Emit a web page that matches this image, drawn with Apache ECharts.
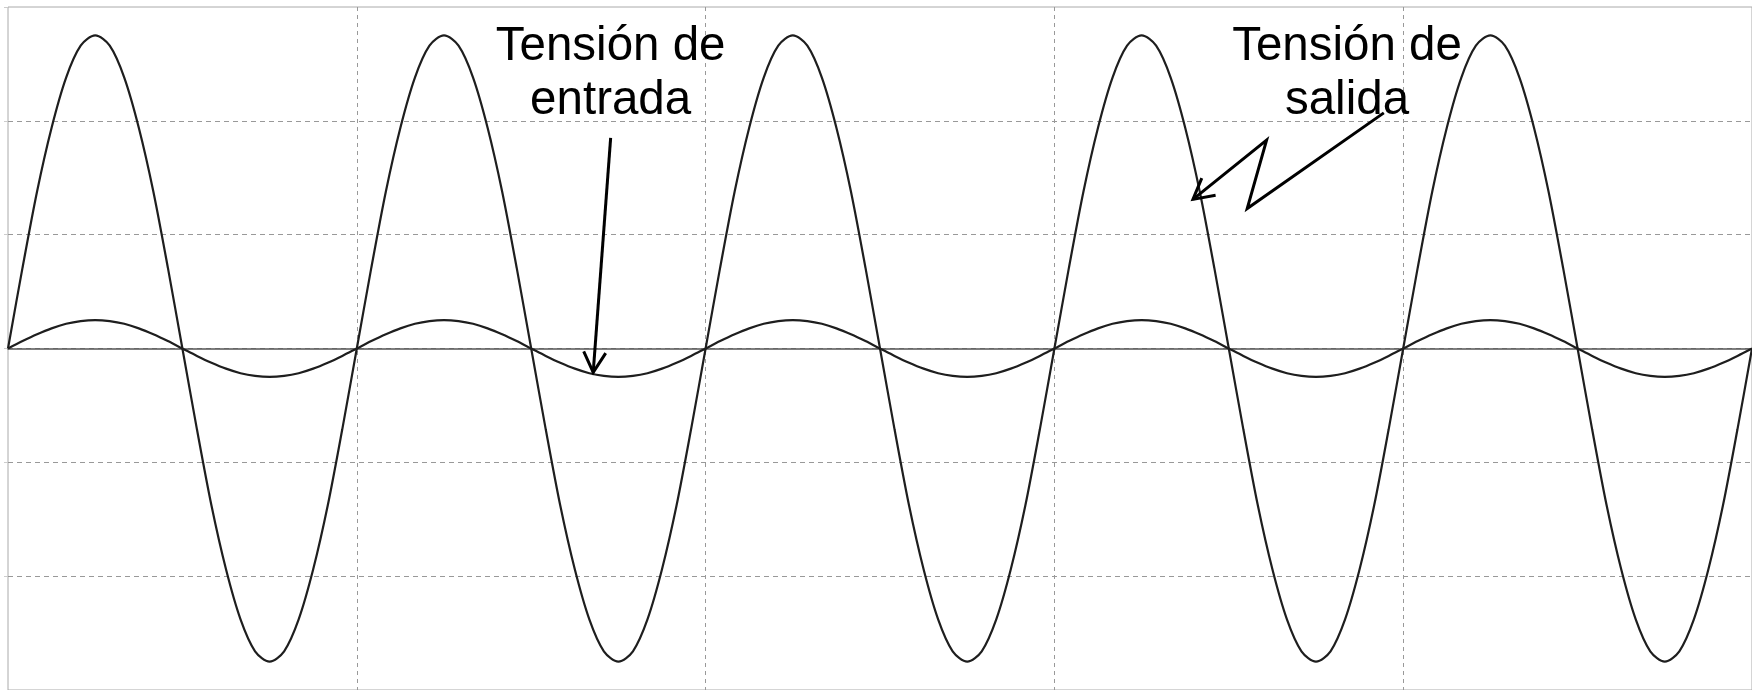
<!DOCTYPE html>
<html>
<head>
<meta charset="utf-8">
<script src="https://cdn.jsdelivr.net/npm/echarts@6/dist/echarts.min.js"></script>
<style>
  html, body { margin: 0; padding: 0; background: #fff; }
  #main { width: 1752px; height: 690px; }
</style>
</head>
<body>
<div id="main"></div>
<script>
// time in electrical degrees, one grid division = one period (360)
const time = [
  0, 15, 30, 45, 60, 75, 90, 105, 120, 135, 150, 165,
  180, 195, 210, 225, 240, 255, 270, 285, 300, 315, 330, 345,
  360, 375, 390, 405, 420, 435, 450, 465, 480, 495, 510, 525,
  540, 555, 570, 585, 600, 615, 630, 645, 660, 675, 690, 705,
  720, 735, 750, 765, 780, 795, 810, 825, 840, 855, 870, 885,
  900, 915, 930, 945, 960, 975, 990, 1005, 1020, 1035, 1050, 1065,
  1080, 1095, 1110, 1125, 1140, 1155, 1170, 1185, 1200, 1215, 1230, 1245,
  1260, 1275, 1290, 1305, 1320, 1335, 1350, 1365, 1380, 1395, 1410, 1425,
  1440, 1455, 1470, 1485, 1500, 1515, 1530, 1545, 1560, 1575, 1590, 1605,
  1620, 1635, 1650, 1665, 1680, 1695, 1710, 1725, 1740, 1755, 1770, 1785,
  1800
];

// output voltage (divisions)
const outputV = [
  0, 0.71, 1.38, 1.94, 2.38, 2.66, 2.75, 2.66, 2.38, 1.94, 1.38, 0.71,
  0, -0.71, -1.38, -1.94, -2.38, -2.66, -2.75, -2.66, -2.38, -1.94, -1.38, -0.71,
  0, 0.71, 1.38, 1.94, 2.38, 2.66, 2.75, 2.66, 2.38, 1.94, 1.38, 0.71,
  0, -0.71, -1.38, -1.94, -2.38, -2.66, -2.75, -2.66, -2.38, -1.94, -1.38, -0.71,
  0, 0.71, 1.38, 1.94, 2.38, 2.66, 2.75, 2.66, 2.38, 1.94, 1.38, 0.71,
  0, -0.71, -1.38, -1.94, -2.38, -2.66, -2.75, -2.66, -2.38, -1.94, -1.38, -0.71,
  0, 0.71, 1.38, 1.94, 2.38, 2.66, 2.75, 2.66, 2.38, 1.94, 1.38, 0.71,
  0, -0.71, -1.38, -1.94, -2.38, -2.66, -2.75, -2.66, -2.38, -1.94, -1.38, -0.71,
  0, 0.71, 1.38, 1.94, 2.38, 2.66, 2.75, 2.66, 2.38, 1.94, 1.38, 0.71,
  0, -0.71, -1.38, -1.94, -2.38, -2.66, -2.75, -2.66, -2.38, -1.94, -1.38, -0.71,
  0
];

// input voltage (divisions)
const inputV = [
  0, 0.065, 0.125, 0.177, 0.217, 0.241, 0.25, 0.241, 0.217, 0.177, 0.125, 0.065,
  0, -0.065, -0.125, -0.177, -0.217, -0.241, -0.25, -0.241, -0.217, -0.177, -0.125, -0.065,
  0, 0.065, 0.125, 0.177, 0.217, 0.241, 0.25, 0.241, 0.217, 0.177, 0.125, 0.065,
  0, -0.065, -0.125, -0.177, -0.217, -0.241, -0.25, -0.241, -0.217, -0.177, -0.125, -0.065,
  0, 0.065, 0.125, 0.177, 0.217, 0.241, 0.25, 0.241, 0.217, 0.177, 0.125, 0.065,
  0, -0.065, -0.125, -0.177, -0.217, -0.241, -0.25, -0.241, -0.217, -0.177, -0.125, -0.065,
  0, 0.065, 0.125, 0.177, 0.217, 0.241, 0.25, 0.241, 0.217, 0.177, 0.125, 0.065,
  0, -0.065, -0.125, -0.177, -0.217, -0.241, -0.25, -0.241, -0.217, -0.177, -0.125, -0.065,
  0, 0.065, 0.125, 0.177, 0.217, 0.241, 0.25, 0.241, 0.217, 0.177, 0.125, 0.065,
  0, -0.065, -0.125, -0.177, -0.217, -0.241, -0.25, -0.241, -0.217, -0.177, -0.125, -0.065,
  0
];

const chart = echarts.init(document.getElementById("main"));

const waveStyle = { color: "#1e1e1e", width: 2.2 };

const option = {
  animation: false,
  backgroundColor: "#fff",
  grid: {
    left: 8,
    top: 7,
    right: -4,
    bottom: 0,
    show: true,
    borderColor: "#aaa",
    borderWidth: 1,
  },
  xAxis: {
    type: "value",
    min: 0,
    max: 1800,
    interval: 360,
    axisLabel: { show: false },
    axisTick: { show: false },
    axisLine: { show: true, onZero: true, lineStyle: { color: "#555", width: 1.5 } },
    splitLine: {
      show: true,
      showMinLine: false,
      showMaxLine: false,
      lineStyle: { color: "#999", type: [4, 4], width: 1 },
    },
  },
  yAxis: {
    type: "value",
    min: -3,
    max: 3,
    interval: 1,
    axisLabel: { show: false },
    axisLine: { show: false },
    axisTick: { show: true, length: 4, lineStyle: { color: "#ccc" } },
    splitLine: {
      show: true,
      showMinLine: false,
      showMaxLine: false,
      lineStyle: { color: "#999", type: [5, 4], width: 1 },
    },
  },
  series: [
    {
      name: "Tensión de salida",
      type: "line",
      data: time.map((t, i) => [t, outputV[i]]),
      smooth: 0.3,
      showSymbol: false,
      lineStyle: waveStyle,
      z: 3,
    },
    {
      name: "Tensión de entrada",
      type: "line",
      data: time.map((t, i) => [t, inputV[i]]),
      smooth: 0.3,
      showSymbol: false,
      lineStyle: waveStyle,
      z: 3,
    },
  ],
};

chart.setOption(option);

// annotations, placed in data coordinates
const toPx = (p) => chart.convertToPixel({ gridIndex: 0 }, p);
const labelFont = '47.5px "Liberation Sans", Arial, sans-serif';

function arrowShapes(points) {
  const pix = points.map(toPx);
  const tip = pix[pix.length - 1];
  const prev = pix[pix.length - 2];
  const ang = Math.atan2(prev[1] - tip[1], prev[0] - tip[0]);
  const len = 23;
  const spread = 0.5;
  const arm1 = [tip[0] + len * Math.cos(ang + spread), tip[1] + len * Math.sin(ang + spread)];
  const arm2 = [tip[0] + len * Math.cos(ang - spread), tip[1] + len * Math.sin(ang - spread)];
  const stroke = { stroke: "#000", lineWidth: 3, fill: null };
  return [
    { type: "polyline", shape: { points: pix }, style: stroke, z: 10 },
    { type: "polyline", shape: { points: [arm1, tip, arm2] }, style: stroke, z: 10 },
  ];
}

function label(text, pos) {
  const p = toPx(pos);
  return {
    type: "text",
    x: p[0],
    y: p[1],
    z: 10,
    style: {
      text: text,
      font: labelFont,
      fill: "#000",
      align: "center",
      verticalAlign: "middle",
      textAlign: "center",
      textVerticalAlign: "middle",
      lineHeight: 54,
    },
  };
}

chart.setOption({
  graphic: [
    label("Tensión de\nentrada", [622, 2.41]),
    label("Tensión de\nsalida", [1382, 2.41]),
    ...arrowShapes([[622, 1.85], [604, -0.21]]),
    ...arrowShapes([[1420, 2.07], [1279, 1.23], [1299, 1.83], [1223, 1.31]]),
  ],
});
</script>
</body>
</html>
